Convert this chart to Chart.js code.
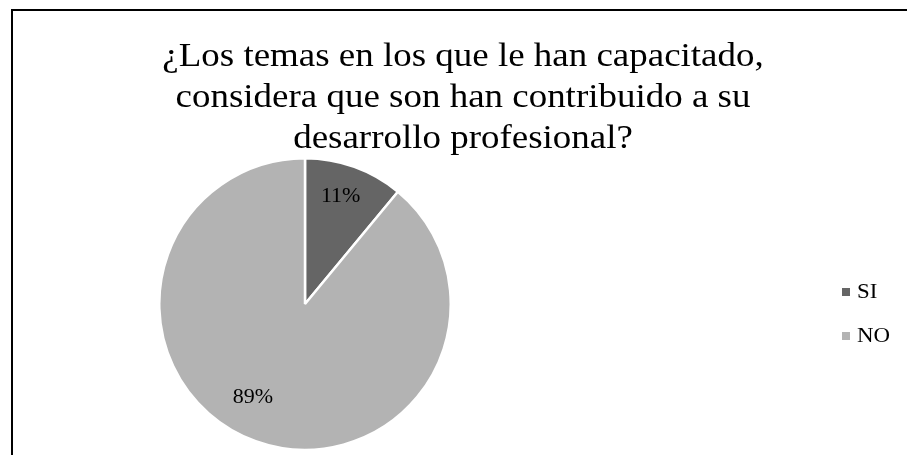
<!DOCTYPE html>
<html>
<head>
<meta charset="utf-8">
<script src="https://cdn.jsdelivr.net/npm/chart.js@4/dist/chart.umd.min.js"></script>
<style>
  html, body { margin: 0; padding: 0; background: #fff; }
  #wrap { position: relative; width: 907px; height: 455px; overflow: hidden; }
  #frame { position: absolute; left: 11px; top: 9px; width: 920px; height: 470px;
           border: 2px solid #000; box-sizing: border-box; }
  canvas { position: absolute; left: 0; top: 0; }
</style>
</head>
<body>
<div id="wrap">
  <div id="frame"></div>
  <canvas id="c" width="907" height="455"></canvas>
</div>
<script>
// Survey answers and their shares (percent)
const categories = ['SI', 'NO'];
const shares = [11, 89];
const sliceColors = ['#656565', '#b3b3b3'];
const titleLines = [
  '¿Los temas en los que le han capacitado,',
  'considera que son han contribuido a su',
  'desarrollo profesional?'
];

const SERIF = "'Liberation Serif', 'Times New Roman', serif";

// draw text with a horizontal stretch around its anchor point
function stretchedText(ctx, text, x, y, sx) {
  ctx.save();
  ctx.translate(x, y);
  ctx.scale(sx, 1);
  ctx.fillText(text, 0, 0);
  ctx.restore();
}

// Title, legend and percentage labels drawn on the canvas
const decorations = {
  id: 'decorations',
  afterDatasetsDraw(chart, args, opts) {
    const ctx = chart.ctx;
    ctx.save();
    // percentage labels inside each slice
    const meta = chart.getDatasetMeta(0);
    ctx.font = '22px ' + SERIF;
    ctx.fillStyle = '#000';
    ctx.textAlign = 'center';
    ctx.textBaseline = 'middle';
    meta.data.forEach((arc, i) => {
      const p = arc.getProps(['x', 'y', 'startAngle', 'endAngle', 'outerRadius'], true);
      const mid = (p.startAngle + p.endAngle) / 2 + opts.labelShift[i] * Math.PI / 180;
      const r = p.outerRadius * opts.labelRadius[i];
      stretchedText(ctx, shares[i] + '%', p.x + Math.cos(mid) * r, p.y + Math.sin(mid) * r, 1.0);
    });
    // title
    ctx.font = '33px ' + SERIF;
    ctx.textBaseline = 'alphabetic';
    titleLines.forEach((line, i) => stretchedText(ctx, line, 463, 66 + i * 41, 1.12));
    // legend
    ctx.font = '22px ' + SERIF;
    ctx.textAlign = 'left';
    categories.forEach((name, i) => {
      const y = 298 + i * 44;
      ctx.fillStyle = sliceColors[i];
      ctx.fillRect(842, y - 10, 8, 8);
      ctx.fillStyle = '#000';
      stretchedText(ctx, name, 857, y, 1.04);
    });
    ctx.restore();
  }
};

new Chart(document.getElementById('c'), {
  type: 'pie',
  data: {
    labels: categories,
    datasets: [{
      data: shares,
      backgroundColor: sliceColors,
      borderColor: '#ffffff',
      borderWidth: 2.5
    }]
  },
  options: {
    responsive: false,
    animation: false,
    events: [],
    layout: { padding: { left: 158, right: 455, top: 157, bottom: 4 } },
    plugins: {
      legend: { display: false },
      title: { display: false },
      tooltip: { enabled: false },
      decorations: { labelRadius: [0.78, 0.73], labelShift: [-1.5, 9.5] }
    }
  },
  plugins: [decorations]
});
</script>
</body>
</html>
